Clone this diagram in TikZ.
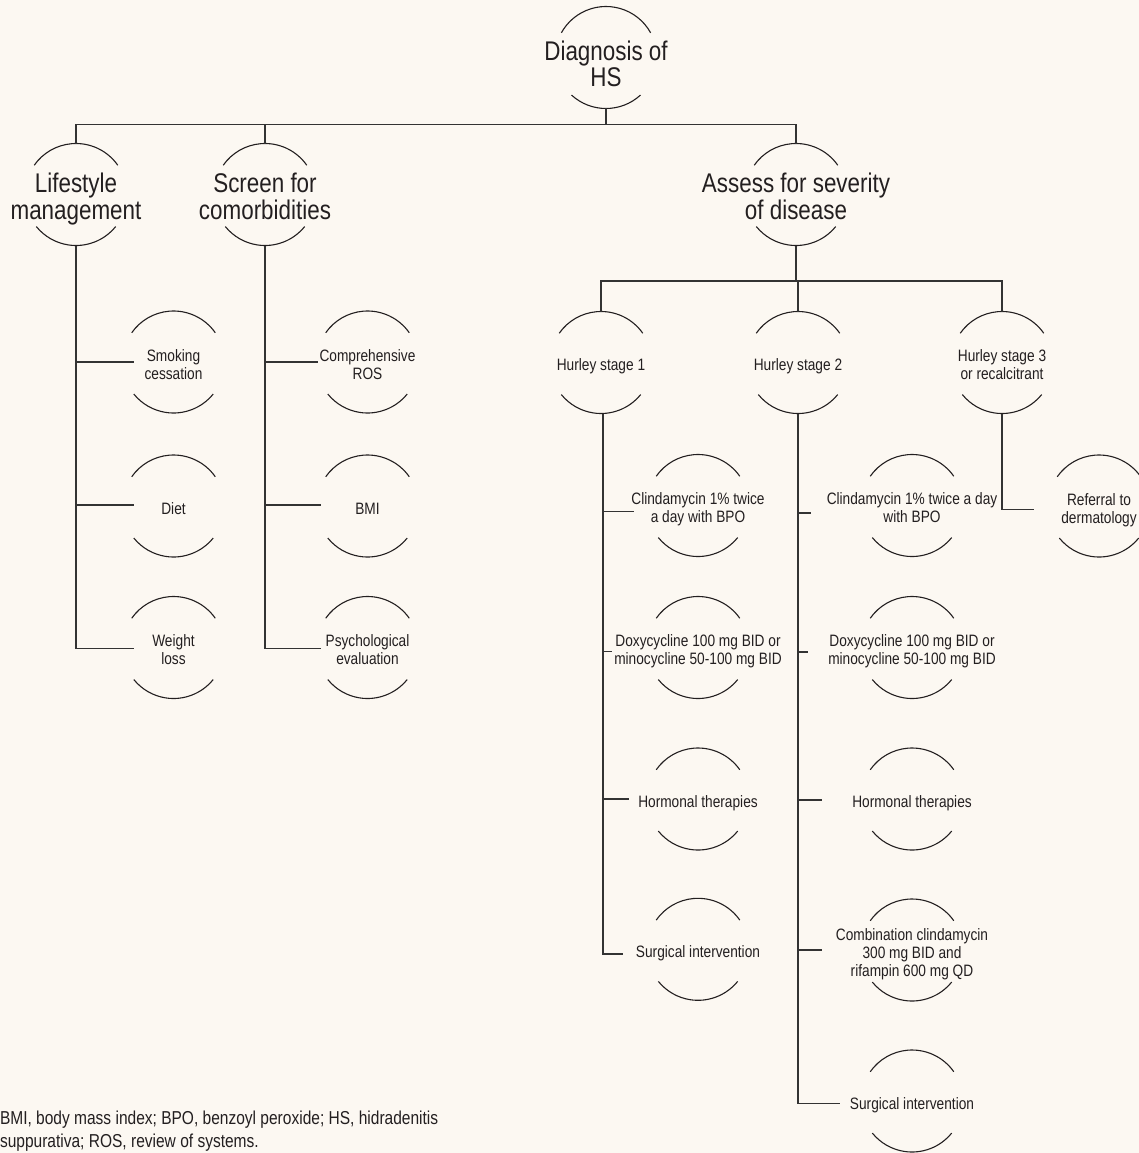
\documentclass[tikz,border=0pt]{standalone}
\usepackage{fontspec}
\setmainfont{Liberation Sans}[FakeStretch=0.83]
\usetikzlibrary{calc}
\definecolor{bg}{HTML}{FCF8F2}
\definecolor{ink}{HTML}{231F20}
\definecolor{lineclr}{HTML}{333333}
\newcommand\hsTop{\rule{0pt}{30pt}}
\newcommand\hsBot{\rule[-7pt]{0pt}{7pt}}
\newcommand\hsTopS{\rule{0pt}{20pt}}
\newcommand\hsBotS{\rule[-4pt]{0pt}{4pt}}
\newcommand\hsarcs[3]{%
  \draw[arcline] ($(#1.center)+(#2:51)$) arc[start angle=#2, end angle={180-#2}, radius=51];
  \draw[arcline] ($(#1.center)+(-#3:51)$) arc[start angle=-#3, end angle={-180+#3}, radius=51];}
\begin{document}
\begin{tikzpicture}[x=1pt,y=1pt,
  hs/.style={text=ink, inner sep=0pt, outer sep=0pt, align=center, minimum height=102pt},
  big/.style={font=\fontsize{27}{26.5}\selectfont},
  small/.style={font=\fontsize{16.5}{18}\selectfont},
  conn/.style={draw=lineclr, line width=1.4pt},
  arcline/.style={draw=ink, line width=1.1pt}]
\fill[bg] (0,0) rectangle (1139,-1153);
\useasboundingbox (0,0) rectangle (1139,-1153);

% level 0 and 1
\node[hs,big] (D) at (606,-57.5) {\rule{0pt}{39pt}Diagnosis of\\HS\hsBot};
\node[hs,big] (L) at (76,-194.5) {\hsTop Lifestyle\\management\hsBot};
\node[hs,big] (S) at (265,-194.5) {\hsTop Screen for\\comorbidities\hsBot};
\node[hs,big] (A) at (796,-194.5) {\hsTop Assess for severity\\of disease\hsBot};

% lifestyle children
\node[hs,small] (Sm) at (173.5,-362) {\hsTopS Smoking\\cessation\hsBotS};
\node[hs,small] (Di) at (173.5,-506) {\hsTopS Diet\hsBotS};
\node[hs,small] (Wl) at (173.5,-647.5) {\hsTopS Weight\\loss\hsBotS};
% screen children
\node[hs,small] (Cr) at (367.5,-362) {\hsTopS Comprehensive\\ROS\hsBotS};
\node[hs,small] (Bm) at (367.5,-506) {\hsTopS BMI\hsBotS};
\node[hs,small] (Ps) at (367.5,-647.5) {\hsTopS Psychological\\evaluation\hsBotS};
% hurley stages
\node[hs,small] (H1) at (601,-362.5) {\hsTopS Hurley stage 1\hsBotS};
\node[hs,small] (H2) at (798,-362.5) {\hsTopS Hurley stage 2\hsBotS};
\node[hs,small] (H3) at (1002,-362.5) {\hsTopS Hurley stage 3\\or recalcitrant\hsBotS};
% hurley 1 children
\node[hs,small] (C1) at (698,-505.5) {\hsTopS Clindamycin 1\% twice\\a day with BPO\hsBotS};
\node[hs,small] (X1) at (698,-647.5) {\hsTopS Doxycycline 100 mg BID or\\minocycline 50-100 mg BID\hsBotS};
\node[hs,small] (M1) at (698,-799) {\hsTopS Hormonal therapies\hsBotS};
\node[hs,small] (U1) at (698,-949.3) {\hsTopS Surgical intervention\hsBotS};
% hurley 2 children
\node[hs,small] (C2) at (912,-505.5) {\hsTopS Clindamycin 1\% twice a day\\with BPO\hsBotS};
\node[hs,small] (X2) at (912,-647.5) {\hsTopS Doxycycline 100 mg BID or\\minocycline 50-100 mg BID\hsBotS};
\node[hs,small] (M2) at (912,-799) {\hsTopS Hormonal therapies\hsBotS};
\node[hs,small] (K2) at (912,-950) {\hsTopS Combination clindamycin\\300 mg BID and\\rifampin 600 mg QD\hsBotS};
\node[hs,small] (U2) at (912,-1101) {\hsTopS Surgical intervention\hsBotS};
% hurley 3 child
\node[hs,small] (R3) at (1099,-506) {\hsTopS Referral to\\dermatology\hsBotS};

% arcs
\hsarcs{D}{29}{47.5}
\foreach \n in {L,S,A,Sm,Di,Wl,Cr,Bm,Ps,H1,H2,H3,C1,X1,M1,U1,C2,X2,M2,K2,U2,R3}{\hsarcs{\n}{35}{39}}

% connectors
\draw[conn] (D.south) -- ++(0,-16.5);
\draw[conn] (L.north) -- ++(0,19) -| (A.north);
\draw[conn] (S.north) -- ++(0,19);

\draw[conn] (L.south) |- ([xshift=-40pt,yshift=-0.8pt]Wl.center);
\draw[conn] (L.south |- Sm.center) -- ([xshift=-40pt]Sm.center);
\draw[conn] ([yshift=1pt]L.south |- Di.center) -- ([xshift=-40pt,yshift=1pt]Di.center);

\draw[conn] (S.south) |- ([xshift=-46.5pt,yshift=-0.8pt]Ps.center);
\draw[conn] (S.south |- Cr.center) -- ([xshift=-50pt]Cr.center);
\draw[conn] ([yshift=1pt]S.south |- Bm.center) -- ([xshift=-46.5pt,yshift=1pt]Bm.center);

\draw[conn] (A.south) -- ++(0,-35.5);
\draw[conn] (H1.north) -- ++(0,30.5) -| (H3.north);
\draw[conn] (H2.north) -- ++(0,30.5);

\draw[conn] ([xshift=2pt]H1.south) |- ([xshift=-74.7pt,yshift=-4.7pt]U1.center);
\draw[conn] ([xshift=2pt,yshift=-6.2pt]H1.south |- C1.center) -- ([xshift=-63.7pt,yshift=-6.2pt]C1.center);
\draw[conn] ([xshift=2pt,yshift=-4.2pt]H1.south |- X1.center) -- ([xshift=-86.3pt,yshift=-4.2pt]X1.center);
\draw[conn] ([xshift=2pt]H1.south |- M1.center) -- ([xshift=-69pt]M1.center);

\draw[conn] (H2.south) |- ([xshift=-72pt,yshift=-2.5pt]U2.center);
\draw[conn] ([yshift=-7.5pt]H2.south |- C2.center) -- ([xshift=-101pt,yshift=-7.5pt]C2.center);
\draw[conn] ([yshift=-4.5pt]H2.south |- X2.center) -- ([xshift=-104pt,yshift=-4.5pt]X2.center);
\draw[conn] ([yshift=-1pt]H2.south |- M2.center) -- ([xshift=-90pt,yshift=-1pt]M2.center);
\draw[conn] (H2.south |- K2.center) -- ([xshift=-90pt]K2.center);

\draw[conn] (H3.south) |- ([xshift=-64.7pt,yshift=-3.3pt]R3.center);

% footnote
\node[text=ink, inner sep=0pt, outer sep=0pt, align=left, anchor=north west, font=\fontsize{18.7}{23}\selectfont] (fn) at (0,-1109)
  {\rule{0pt}{15pt}BMI, body mass index; BPO, benzoyl peroxide; HS, hidradenitis\\suppurativa; ROS, review of systems.};
\end{tikzpicture}
\end{document}
